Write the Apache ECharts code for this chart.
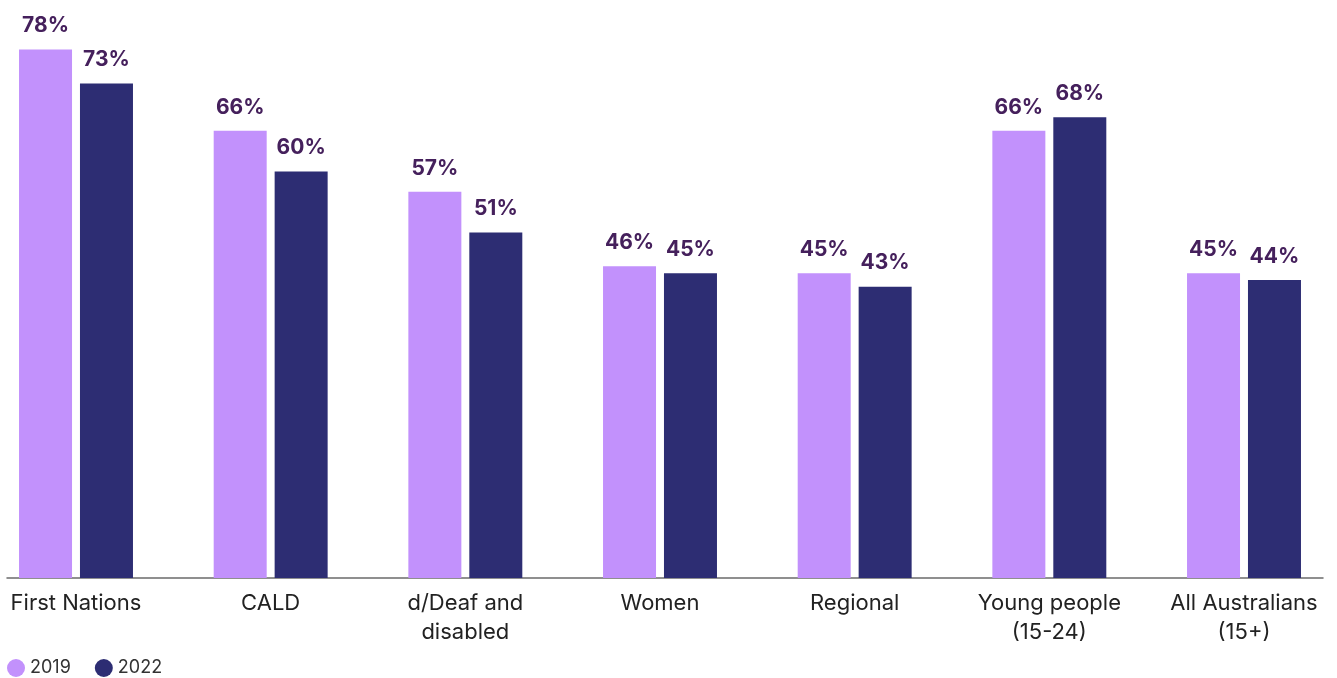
<!DOCTYPE html>
<html>
<head>
<meta charset="utf-8">
<style>
  html, body { margin: 0; padding: 0; background: #ffffff; }
  #chart { width: 1337px; height: 678px; }
</style>
<script src="https://cdn.jsdelivr.net/npm/echarts@6/dist/echarts.min.js"></script>
</head>
<body>
<div id="chart"></div>
<script>
// Groups shown along the category axis
const categories = [
  'First Nations',
  'CALD',
  'd/Deaf and\ndisabled',
  'Women',
  'Regional',
  'Young people\n(15-24)',
  'All Australians\n(15+)'
];

// Share of each group, in percent
const values2019 = [78, 66, 57, 46, 45, 66, 45];
const values2022 = [73, 60, 51, 45, 43, 68, 44];

const seriesNames = ['2019', '2022'];

const COLOR_2019 = '#c291fc';
const COLOR_2022 = '#2d2d73';
const LABEL_COLOR = '#45205c';
const FONT = 'Inter, "Noto Sans", sans-serif';

const valueLabel = {
  show: true,
  position: 'top',
  distance: 13,
  formatter: '{c}%',
  fontFamily: FONT,
  fontWeight: 700,
  fontSize: 21,
  color: LABEL_COLOR
};

const chart = echarts.init(document.getElementById('chart'), null, { renderer: 'canvas' });

chart.setOption({
  animation: false,
  backgroundColor: '#ffffff',
  legend: {
    left: 7,
    top: 659,
    padding: 0,
    icon: 'circle',
    itemWidth: 18,
    itemHeight: 18,
    itemGap: 24,
    textStyle: { fontFamily: FONT, fontSize: 18, color: '#333333', padding: [0, 0, 0, 0] },
    data: seriesNames
  },
  grid: [
    // bars: group centres sit on the ticks of a non-banded category axis
    { left: 76, right: 93, top: 36, bottom: 100, containLabel: false },
    // baseline rule under the bars
    { left: 7, right: 14, top: 36, bottom: 100, containLabel: false }
  ],
  xAxis: [
    {
      type: 'category',
      gridIndex: 0,
      boundaryGap: false,
      data: categories,
      axisLine: { show: false },
      axisTick: { show: false },
      splitLine: { show: false },
      axisLabel: {
        margin: 11,
        fontFamily: FONT,
        fontSize: 22,
        lineHeight: 29,
        color: '#222222',
        interval: 0
      }
    },
    {
      type: 'value',
      gridIndex: 1,
      min: 0,
      max: 1,
      axisLine: { show: true, onZero: false, lineStyle: { color: '#6b6b6b', width: 1.5 } },
      axisTick: { show: false },
      axisLabel: { show: false },
      splitLine: { show: false }
    }
  ],
  yAxis: [
    { type: 'value', gridIndex: 0, min: 0, max: 80, show: false },
    { type: 'value', gridIndex: 1, min: 0, max: 80, show: false }
  ],
  series: [
    {
      name: seriesNames[0],
      type: 'bar',
      xAxisIndex: 0,
      yAxisIndex: 0,
      data: values2019,
      barWidth: 53,
      barGap: '15%',
      itemStyle: { color: COLOR_2019 },
      label: valueLabel
    },
    {
      name: seriesNames[1],
      type: 'bar',
      xAxisIndex: 0,
      yAxisIndex: 0,
      data: values2022,
      barWidth: 53,
      barGap: '15%',
      itemStyle: { color: COLOR_2022 },
      label: valueLabel
    }
  ]
});
</script>
</body>
</html>
